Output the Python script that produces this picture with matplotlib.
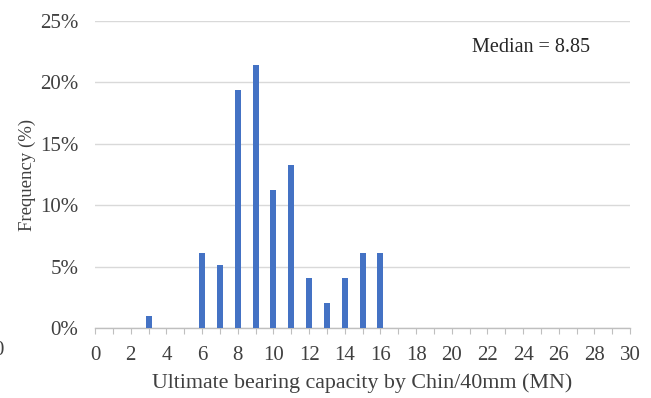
import matplotlib
matplotlib.use("Agg")
import matplotlib.pyplot as plt
from matplotlib.ticker import MultipleLocator, FuncFormatter

# Frequency distribution of ultimate bearing capacity (Chin / 40 mm criterion)
capacity_mn = [3, 6, 7, 8, 9, 10, 11, 12, 13, 14, 15, 16]
frequency_pct = [1.0, 6.1, 5.1, 19.4, 21.4, 11.2, 13.3, 4.1, 2.0, 4.1, 6.1, 6.1]
median_value = 8.85

plt.rcParams["font.family"] = ["Liberation Serif", "DejaVu Serif"]

fig = plt.figure(figsize=(6.51, 3.98), dpi=100)
ax = fig.add_axes([0.146, 0.176, 0.822, 0.771])

ax.bar(capacity_mn, frequency_pct, width=0.34, color="#4472C4", zorder=3)

ax.set_xlim(0, 30)
ax.set_ylim(0, 25)
ax.xaxis.set_major_locator(MultipleLocator(2))
ax.xaxis.set_minor_locator(MultipleLocator(1))
ax.yaxis.set_major_locator(MultipleLocator(5))
ax.yaxis.set_major_formatter(FuncFormatter(lambda v, p: f"{v:.0f}%"))

ax.grid(axis="y", color="#D9D9D9", linewidth=1.0, zorder=0)
for s in ("top", "right", "left"):
    ax.spines[s].set_visible(False)
ax.spines["bottom"].set_color("#BFBFBF")
ax.spines["bottom"].set_linewidth(1.0)

ax.tick_params(axis="x", which="both", direction="out", length=4, width=0.8,
               color="#BFBFBF")
ax.tick_params(axis="x", which="major", labelsize=15, labelcolor="#404040", pad=9)
ax.tick_params(axis="y", length=0, labelsize=15, labelcolor="#404040", pad=12)

ax.set_xlabel("Ultimate bearing capacity by Chin/40mm (MN)", fontsize=15.8,
              color="#404040", labelpad=6)
ax.set_ylabel("Frequency (%)", fontsize=13.5, color="#404040", labelpad=3)

ax.text(0.815, 0.915, f"Median = {median_value:.2f}", transform=ax.transAxes,
        fontsize=14.5, color="#262626", ha="center", va="center")

# clipped tick label from the neighbouring panel
fig.text(0.006, 0.12, "0", fontsize=15, color="#404040", ha="right", va="center")

fig.savefig("out.png", dpi=100)
